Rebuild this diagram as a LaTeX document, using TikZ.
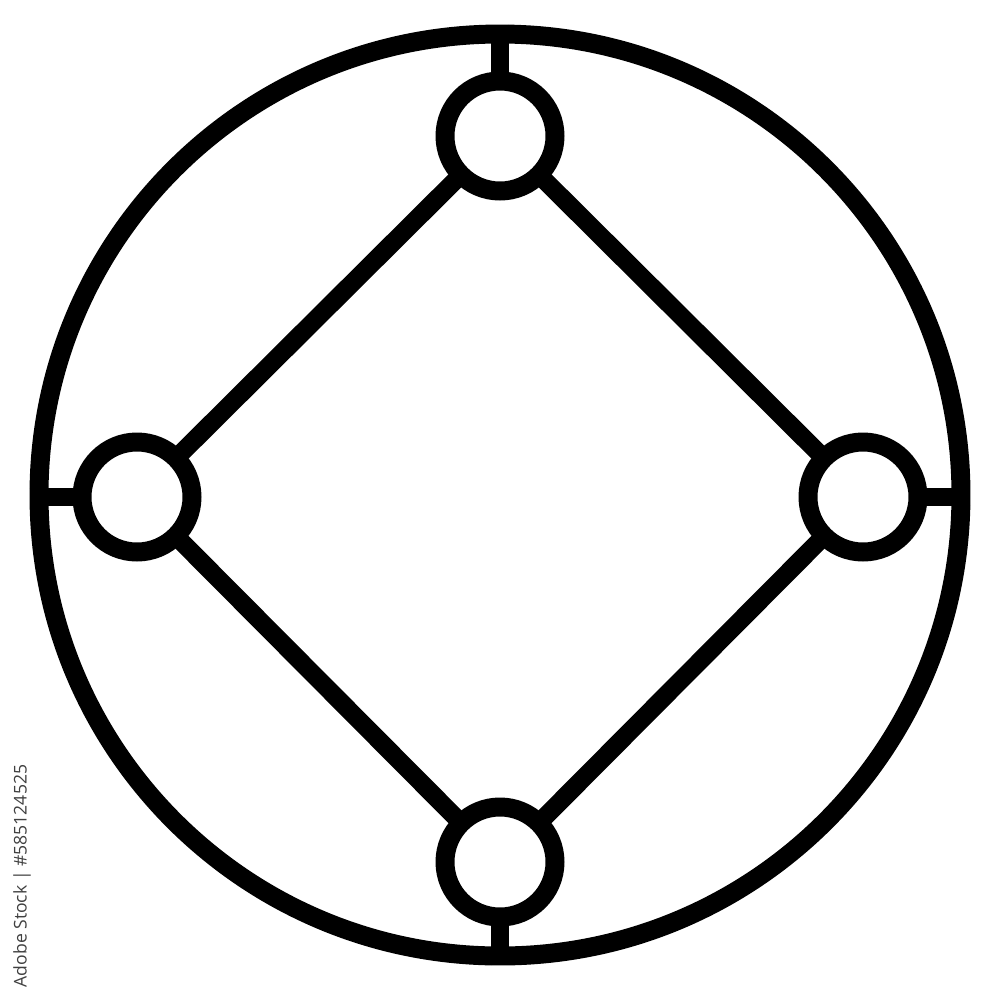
\documentclass[tikz,border=0pt]{standalone}
\usepackage{fontspec}
\newfontfamily\wmfont{Open Sans}
\usetikzlibrary{backgrounds}
\begin{document}
\begin{tikzpicture}[x=0.1mm,y=-0.1mm,
  ring/.style={circle,draw=black,line width=5.4pt,inner sep=0pt,minimum size=9.22cm},
  dot/.style={circle,draw=black,fill=white,line width=5.4pt,inner sep=0pt,minimum size=1.1cm},
  link/.style={draw=black,line width=5.2pt}]
\useasboundingbox (0,0) rectangle (1000,1000);
\node[ring] (big) at (500,495) {};
\node[dot] (t) at (500,136) {};
\node[dot] (l) at (137,497) {};
\node[dot] (r) at (863,497) {};
\node[dot] (b) at (500,862) {};
\begin{pgfonlayer}{background}
\draw[link] (t.center) -- (l.center) -- (b.center) -- (r.center) -- (t.center);
\draw[link] (big.north) -- (t.center);
\draw[link] (big.south) -- (b.center);
\draw[link] (l.center -| big.west) -- (l.center);
\draw[link] (r.center -| big.east) -- (r.center);
\end{pgfonlayer}
\node[rotate=90,text=black!75,font=\wmfont\fontsize{5pt}{6pt}\selectfont,inner sep=0pt] (wm) at (22,876) {Adobe Stock | \#585124525};
\end{tikzpicture}
\end{document}
